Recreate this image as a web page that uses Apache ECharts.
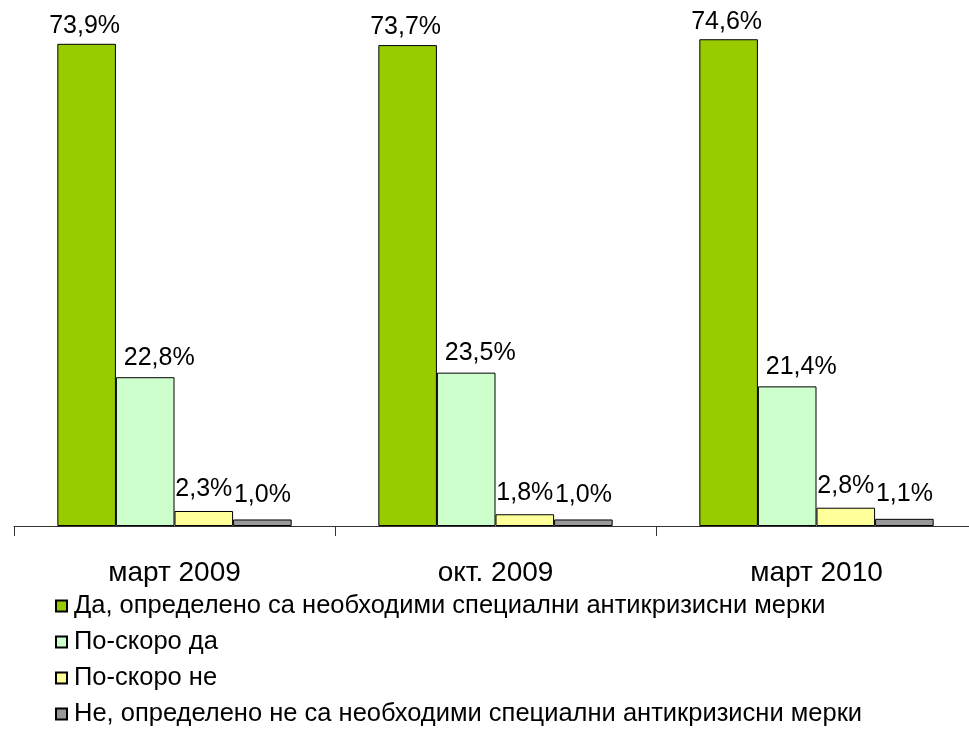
<!DOCTYPE html>
<html>
<head>
    <meta charset="UTF-8">
    <title>Антикризисни мерки</title>
    <script src="https://cdn.jsdelivr.net/npm/echarts@6/dist/echarts.min.js"></script>
    <style>
        html, body { margin: 0; padding: 0; background: #fff; overflow: hidden; }
        /* plot runs a little past the right edge, like the original */
        #main { width: 977px; height: 732px; }
    </style>
</head>
<body>
<div id="main"></div>
<script type="text/javascript">
// periods on the x axis
var categories = ['март 2009', 'окт. 2009', 'март 2010'];

// answers, in %
var seriesNames = [
    'Да, определено са необходими специални антикризисни мерки',
    'По-скоро да',
    'По-скоро не',
    'Не, определено не са необходими специални антикризисни мерки'
];
var yesDefinitely = [73.9, 73.7, 74.6];
var ratherYes = [22.8, 23.5, 21.4];
var ratherNo = [2.3, 1.8, 2.8];
var noDefinitely = [1.0, 1.0, 1.1];

var colors = ['#99cc00', '#ccffcc', '#ffff99', '#999999'];
var font = '"Liberation Sans", Arial, sans-serif';

var myChart = echarts.init(document.getElementById('main'));

function makeSeries(name, data, color, labelOffset) {
    return {
        name: name,
        type: 'bar',
        data: data,
        barGap: '0%',
        barCategoryGap: '27%',
        itemStyle: {
            color: color,
            borderColor: '#000',
            borderWidth: 1
        },
        label: {
            show: true,
            position: 'top',
            distance: 5,
            offset: labelOffset,
            color: '#000',
            fontFamily: font,
            fontSize: 25,
            formatter: function (p) {
                return p.value.toFixed(1).replace('.', ',') + '%';
            }
        }
    };
}

var option = {
    backgroundColor: '#fff',
    animation: false,
    grid: {
        left: 14,
        right: 0,
        top: 4,
        height: 522
    },
    legend: {
        orient: 'vertical',
        left: 55,
        top: 593,
        height: 139,
        padding: 0,
        itemWidth: 11,
        itemHeight: 11,
        itemGap: 10,
        icon: 'rect',
        textStyle: {
            color: '#000',
            fontFamily: font,
            fontSize: 25.5,
            lineHeight: 26,
            padding: [0, 0, 0, 2]
        },
        data: seriesNames
    },
    xAxis: {
        type: 'category',
        data: categories,
        axisLine: { lineStyle: { color: '#333', width: 1 } },
        axisTick: { show: true, length: 10, lineStyle: { color: '#333' } },
        axisLabel: {
            color: '#000',
            fontFamily: font,
            fontSize: 28,
            margin: 33
        }
    },
    yAxis: {
        type: 'value',
        min: 0,
        max: 80,
        show: false,
        splitLine: { show: false }
    },
    series: [
        makeSeries(seriesNames[0], yesDefinitely, colors[0], [-2, 0]),
        makeSeries(seriesNames[1], ratherYes, colors[1], [14, -2]),
        makeSeries(seriesNames[2], ratherNo, colors[2], [0, -4]),
        makeSeries(seriesNames[3], noDefinitely, colors[3], [0, -7])
    ]
};
myChart.setOption(option);
</script>
</body>
</html>
